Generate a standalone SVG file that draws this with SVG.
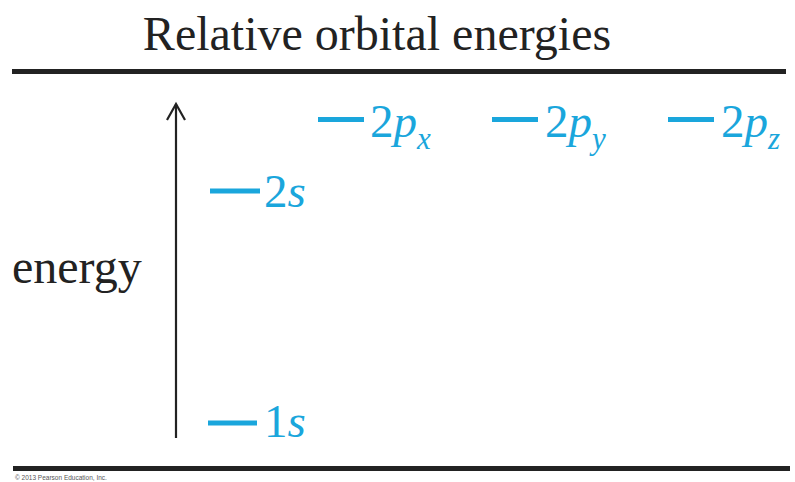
<svg xmlns="http://www.w3.org/2000/svg" width="795" height="482" viewBox="0 0 795 482">
<style>
.t{font-family:"Liberation Serif","Times New Roman",serif;fill:#222}
.b{font-family:"Liberation Serif","Times New Roman",serif;fill:#1aa6dc;font-size:47px}
.i{font-style:italic}
.lv{stroke:#1aa6dc;stroke-width:5}
.rule{stroke:#222;stroke-width:5}
</style>
<rect width="795" height="482" fill="#fff"/>
<text class="t" x="377" y="50" font-size="48" text-anchor="middle">Relative orbital energies</text>
<line class="rule" x1="12" y1="71.5" x2="786" y2="71.5"/>
<line class="rule" x1="13" y1="468.5" x2="790" y2="468.5"/>
<text x="15" y="480" font-family="Liberation Sans,Arial,sans-serif" font-size="6.5" fill="#555">© 2013 Pearson Education, Inc.</text>
<text class="t" x="12" y="283" font-size="48">energy</text>
<g id="connectors">
<line x1="176" y1="104" x2="176" y2="438" stroke="#222" stroke-width="2.2"/>
<polyline points="167,120 176,104 185,120" fill="none" stroke="#222" stroke-width="2.2"/>
</g>
<g id="level-1s">
<line class="lv" x1="208" y1="423" x2="257" y2="423"/>
<text class="b" x="264" y="437">1<tspan class="i">s</tspan></text>
</g>
<g id="level-2s">
<line class="lv" x1="210" y1="191" x2="260" y2="191"/>
<text class="b" x="264" y="207">2<tspan class="i">s</tspan></text>
</g>
<g id="level-2px">
<line class="lv" x1="318" y1="119.5" x2="364" y2="119.5"/>
<text class="b" x="370" y="137">2<tspan class="i">p</tspan><tspan class="i" font-size="31" dy="12">x</tspan></text>
</g>
<g id="level-2py">
<line class="lv" x1="492" y1="119.5" x2="538" y2="119.5"/>
<text class="b" x="545" y="137">2<tspan class="i">p</tspan><tspan class="i" font-size="31" dy="12">y</tspan></text>
</g>
<g id="level-2pz">
<line class="lv" x1="668" y1="119.5" x2="714" y2="119.5"/>
<text class="b" x="721" y="137">2<tspan class="i">p</tspan><tspan class="i" font-size="31" dy="12">z</tspan></text>
</g>
</svg>
